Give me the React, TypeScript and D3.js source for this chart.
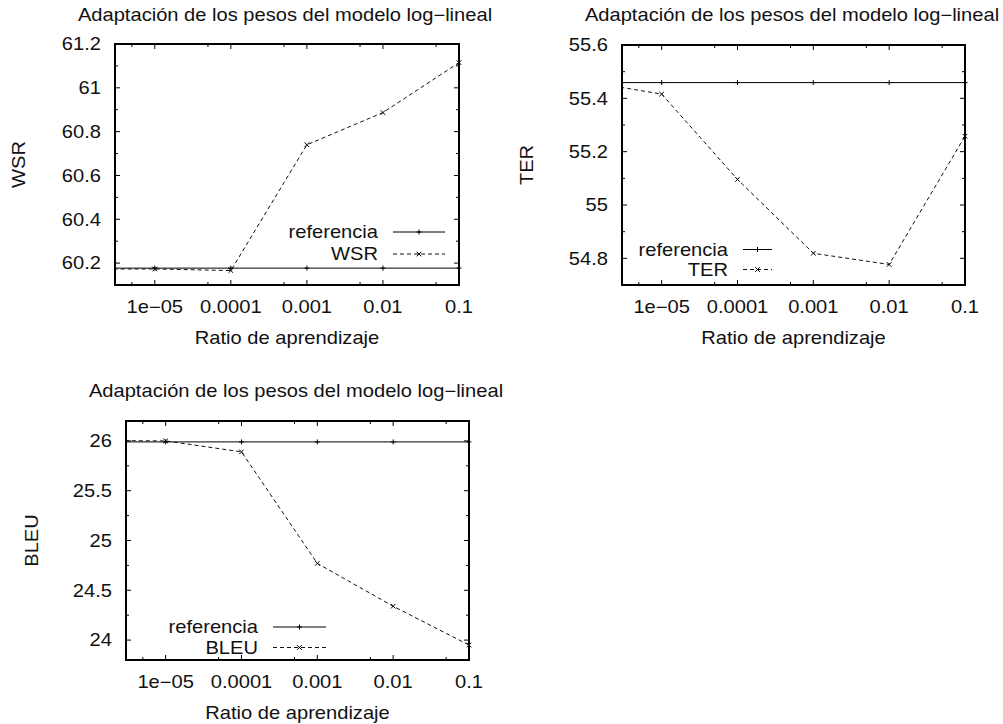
import React, { useRef, useEffect } from 'react';
import * as d3 from 'd3';

// learning rates (the first one falls left of the visible range and gets clipped)
const RATES = [1e-6, 1e-5, 1e-4, 1e-3, 1e-2, 1e-1];
const RATE_DOMAIN = [3e-6, 0.1];
const RATE_TICKS = [1e-5, 1e-4, 1e-3, 1e-2, 1e-1];
const RATE_TICK_LABELS = ["1e\u221205", "0.0001", "0.001", "0.01", "0.1"];
const RATE_MINOR = [5e-6, 5e-5, 5e-4, 5e-3, 5e-2];

const WSR_VALUES = [60.173, 60.173, 60.166, 60.74, 60.887, 61.115];
const WSR_REFERENCE = 60.177;
const WSR_TICKS = [60.2, 60.4, 60.6, 60.8, 61, 61.2];
const WSR_MINOR = [60.3, 60.5, 60.7, 60.9, 61.1];

const TER_VALUES = [55.463, 55.416, 55.096, 54.819, 54.777, 55.258];
const TER_REFERENCE = 55.459;
const TER_TICKS = [54.8, 55, 55.2, 55.4, 55.6];
const TER_MINOR = [54.9, 55.1, 55.3, 55.5];

const BLEU_VALUES = [26.005, 26.0, 25.89, 24.77, 24.34, 23.95];
const BLEU_REFERENCE = 25.99;
const BLEU_TICKS = [24, 24.5, 25, 25.5, 26];
const BLEU_MINOR = [24.25, 24.75, 25.25, 25.75];

const TITLE = "Adaptaci\u00f3n de los pesos del modelo log\u2212lineal";
const X_LABEL = "Ratio de aprendizaje";
const REF_LABEL = "referencia";

const FONT = "'Liberation Sans', Arial, Helvetica, sans-serif";
const FONT_SIZE = 17.5;
const STRETCH = 1.15;

const PANELS = [
    {
        name: "WSR", values: WSR_VALUES, reference: WSR_REFERENCE,
        yDomain: [60.1, 61.2], yTicks: WSR_TICKS, yMinor: WSR_MINOR,
        box: { left: 115, right: 459, top: 44, bottom: 285 },
        titleX: 285, titleY: 15, yLabelX: 19,
        legend: { x: 378, y: 232, gap: 22, lineStart: 393, lineEnd: 445 }
    },
    {
        name: "TER", values: TER_VALUES, reference: TER_REFERENCE,
        yDomain: [54.7, 55.6], yTicks: TER_TICKS, yMinor: TER_MINOR,
        box: { left: 622, right: 965, top: 45, bottom: 285 },
        titleX: 792, titleY: 15, yLabelX: 527,
        legend: { x: 728, y: 249.5, gap: 20, lineStart: 743, lineEnd: 772 }
    },
    {
        name: "BLEU", values: BLEU_VALUES, reference: BLEU_REFERENCE,
        yDomain: [23.8, 26.2], yTicks: BLEU_TICKS, yMinor: BLEU_MINOR,
        box: { left: 126, right: 469, top: 421, bottom: 660 },
        titleX: 296, titleY: 390.5, yLabelX: 32,
        legend: { x: 258, y: 627, gap: 20.5, lineStart: 273, lineEnd: 326 }
    }
];

const PLUS = "M-2.5,0H2.5M0,-2.5V2.5";
const CROSS = "M-2.3,-2.3L2.3,2.3M-2.3,2.3L2.3,-2.3";

const App: React.FC = () => {
    const svgRef = useRef<SVGSVGElement>(null);

    useEffect(() => {
        if (!svgRef.current) return;
        const svg = d3.select(svgRef.current);
        svg.selectAll("*").remove();

        const label = (g: any, text: string, x: number, y: number, anchor: string, rotate = false) =>
            g.append("text")
                .attr("transform", `translate(${x},${y})${rotate ? " rotate(-90)" : ""} scale(${STRETCH},1)`)
                .attr("text-anchor", anchor)
                .attr("dy", "0.36em")
                .style("font-family", FONT)
                .style("font-size", FONT_SIZE + "px")
                .attr("fill", "#111")
                .text(text);

        PANELS.forEach((p, idx) => {
            const { box } = p;
            const g = svg.append("g");

            const x = d3.scaleLog().domain(RATE_DOMAIN).range([box.left, box.right]);
            const y = d3.scaleLinear().domain(p.yDomain).range([box.bottom, box.top]);

            g.append("clipPath")
                .attr("id", `clip-${idx}`)
                .append("rect")
                .attr("x", box.left).attr("y", box.top)
                .attr("width", box.right - box.left)
                .attr("height", box.bottom - box.top);

            // ticks, pointing inward, mirrored on all sides
            const tickG = g.append("g").attr("stroke", "#000").attr("stroke-width", 1);
            const xTick = (v: number, len: number) => {
                tickG.append("line").attr("x1", x(v)).attr("x2", x(v)).attr("y1", box.bottom).attr("y2", box.bottom - len);
                tickG.append("line").attr("x1", x(v)).attr("x2", x(v)).attr("y1", box.top).attr("y2", box.top + len);
            };
            const yTick = (v: number, len: number) => {
                tickG.append("line").attr("y1", y(v)).attr("y2", y(v)).attr("x1", box.left).attr("x2", box.left + len);
                tickG.append("line").attr("y1", y(v)).attr("y2", y(v)).attr("x1", box.right).attr("x2", box.right - len);
            };
            RATE_TICKS.forEach(v => xTick(v, 5));
            RATE_MINOR.forEach(v => xTick(v, 3));
            p.yTicks.forEach(v => yTick(v, 5));
            p.yMinor.forEach(v => yTick(v, 3));

            // tick labels
            RATE_TICKS.forEach((v, i) => label(g, RATE_TICK_LABELS[i], x(v), box.bottom + 21.7, "middle"));
            p.yTicks.forEach(v => label(g, String(+v.toFixed(2)), box.left - 14, y(v), "end"));

            // titles
            label(g, TITLE, p.titleX, p.titleY, "middle");
            label(g, X_LABEL, (box.left + box.right) / 2, box.bottom + 52.5, "middle");
            label(g, p.name, p.yLabelX, (box.top + box.bottom) / 2, "middle", true);

            // data
            const plot = g.append("g").attr("clip-path", `url(#clip-${idx})`);
            const line = d3.line<number>().x((_, i) => x(RATES[i])).y(d => y(d));
            const refValues = RATES.map(() => p.reference);

            plot.append("path")
                .attr("d", line(refValues))
                .attr("fill", "none").attr("stroke", "#000").attr("stroke-width", 1);
            plot.append("path")
                .attr("d", line(p.values))
                .attr("fill", "none").attr("stroke", "#111").attr("stroke-width", 1)
                .attr("stroke-dasharray", "4,3");

            const visible = RATES.map((r, i) => i).filter(i => RATES[i] >= RATE_DOMAIN[0]);
            g.append("g").selectAll("path").data(visible).join("path")
                .attr("transform", i => `translate(${x(RATES[i])},${y(p.reference)})`)
                .attr("d", PLUS).attr("stroke", "#000").attr("stroke-width", 1);
            g.append("g").selectAll("path").data(visible).join("path")
                .attr("transform", i => `translate(${x(RATES[i])},${y(p.values[i])})`)
                .attr("d", CROSS).attr("stroke", "#000").attr("stroke-width", 1);

            // frame
            g.append("rect")
                .attr("x", box.left).attr("y", box.top)
                .attr("width", box.right - box.left)
                .attr("height", box.bottom - box.top)
                .attr("fill", "none").attr("stroke", "#000").attr("stroke-width", 2);

            // legend
            const lg = p.legend;
            const mid = (lg.lineStart + lg.lineEnd) / 2;
            label(g, REF_LABEL, lg.x, lg.y, "end");
            g.append("line").attr("x1", lg.lineStart).attr("x2", lg.lineEnd)
                .attr("y1", lg.y).attr("y2", lg.y).attr("stroke", "#000");
            g.append("path").attr("transform", `translate(${mid},${lg.y})`).attr("d", PLUS).attr("stroke", "#000");

            label(g, p.name, lg.x, lg.y + lg.gap, "end");
            g.append("line").attr("x1", lg.lineStart).attr("x2", lg.lineEnd)
                .attr("y1", lg.y + lg.gap).attr("y2", lg.y + lg.gap)
                .attr("stroke", "#111").attr("stroke-dasharray", "4,3");
            g.append("path").attr("transform", `translate(${mid},${lg.y + lg.gap})`).attr("d", CROSS).attr("stroke", "#000");
        });
    }, []);

    return (
        <svg ref={svgRef} width={1003} height={724}
            style={{ position: "absolute", left: 0, top: 0, background: "#fff" }} />
    );
};

export default App;
